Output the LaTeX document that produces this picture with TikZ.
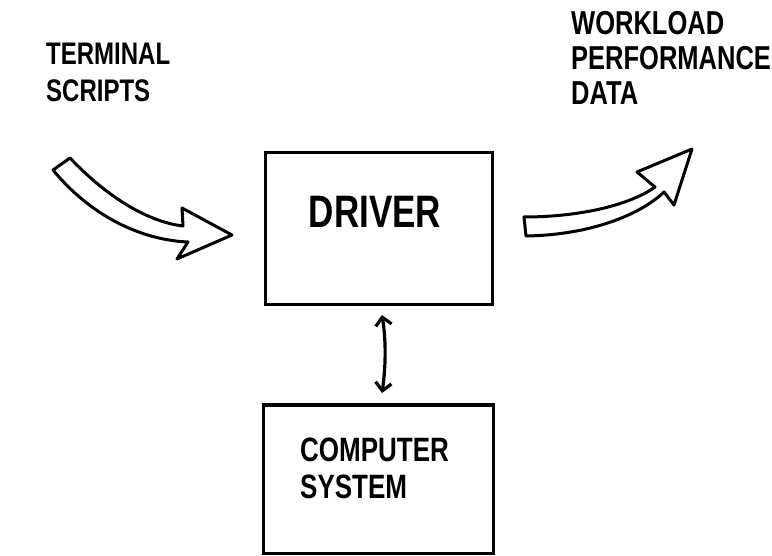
\documentclass[tikz,border=0pt]{standalone}
\usepackage{fontspec}
\usepackage{graphicx}
\setmainfont{Liberation Sans}
\usetikzlibrary{arrows.meta}

\tikzset{
  box/.style={draw, line width=3pt, minimum width=227pt, minimum height=152pt, inner sep=0pt},
  hand/.style={inner sep=0pt, align=left, font=\fontsize{24}{33}\selectfont\bfseries},
  bigarrow/.style={draw, line width=3pt, line join=round, fill=white},
  link/.style={line width=3.2pt, {Straight Barb[length=8pt,width=16pt]}-{Straight Barb[length=8pt,width=16pt]}}
}
\newcommand{\tall}[1]{\scalebox{1}[1.3]{#1}}

\begin{document}
\begin{tikzpicture}[x=1pt,y=-1pt]
  \useasboundingbox (0,0) rectangle (772,556);

  % the two blocks
  \node[box] (driver) at (378.5,229) {};
  \node[box, minimum width=230pt, minimum height=148pt] (computer) at (378,479) {};

  % labels inside the blocks
  \node[hand, font=\fontsize{35}{40}\selectfont\bfseries] (drivertext) at (375,212) {\tall{DRIVER}};
  \node[hand, anchor=north west, font=\fontsize{26}{37}\selectfont\bfseries] (comptext) at (300,438)
    {\tall{COMPUTER}\\\tall{SYSTEM}};

  % input and output labels
  \node[hand, anchor=north west] (scripts) at (46,43) {\tall{TERMINAL}\\[4pt]\tall{SCRIPTS}};
  \node[hand, anchor=north west, font=\fontsize{25.5}{35}\selectfont\bfseries] (perf) at (571,11)
    {\tall{WORKLOAD}\\\tall{PERFORMANCE}\\\tall{DATA}};

  % broad curved arrow into the driver
  \path[bigarrow] (53,170) -- (70,158)
    .. controls (110,200) and (150,222) .. (183,226)
    -- (182,208) -- (232,235) -- (177,259) -- (188,242)
    .. controls (140,240) and (90,215) .. (53,170) -- cycle;

  % broad curved arrow out of the driver
  \path[bigarrow] (524,217)
    .. controls (580,217) and (630,205) .. (655,187)
    -- (637,172) -- (692,149) -- (674,205) -- (664,192)
    .. controls (640,215) and (590,235) .. (526,236) -- cycle;

  % two-way link between driver and computer system
  \coordinate (linktop) at (382,315);
  \coordinate (linkbot) at (382,393);
  \draw[link] (linktop) .. controls (386,340) and (386,365) .. (linkbot);
\end{tikzpicture}
\end{document}
